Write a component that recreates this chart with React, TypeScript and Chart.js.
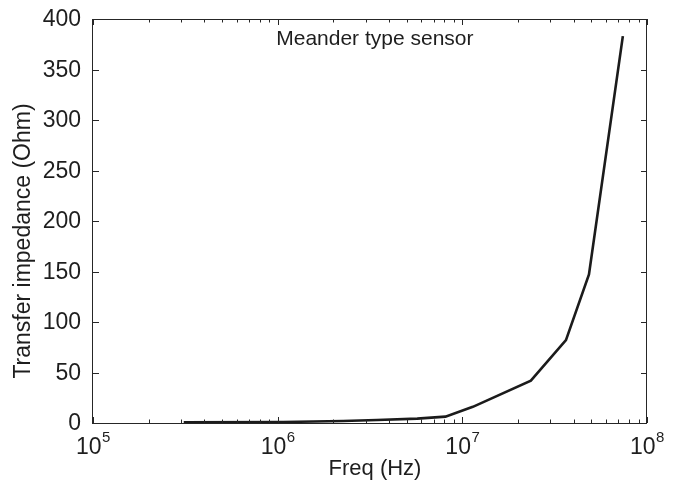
import React, { useEffect, useRef } from "react";
import { Chart, registerables } from "chart.js";

Chart.register(...registerables);

// ---- data ----
const freqHz = [3.1e5, 1.07e6, 2.26e6, 3.45e6, 5.7e6, 8.1e6, 1.14e7, 2.35e7, 3.64e7, 4.85e7, 7.4e7];
const impedanceOhm = [0.6, 1.0, 2.0, 3.0, 4.3, 6.3, 16, 42, 82, 147, 383];

const yTickValues = [0, 50, 100, 150, 200, 250, 300, 350, 400];
const xDecadeExponents = [5, 6, 7, 8];
const minorMultipliers = [2, 3, 4, 5, 6, 7, 8, 9];

const xAxisTitle = "Freq (Hz)";
const yAxisTitle = "Transfer impedance (Ohm)";
const annotationText = "Meander type sensor";
const annotationX = 3.36e6;
const annotationY = 380;

const FONT = "'Liberation Sans', Arial, Helvetica, sans-serif";
const TEXT_COLOR = "#1e1e1e";

const matlabAxesPlugin = {
  id: "matlabAxes",
  afterDraw(chart: any) {
    const { ctx, chartArea } = chart;
    const xs = chart.scales.x;
    const ys = chart.scales.y;
    const { left, right, top, bottom } = chartArea;
    ctx.save();

    // box
    ctx.strokeStyle = "#262626";
    ctx.lineWidth = 1;
    ctx.strokeRect(Math.round(left) - 0.5, Math.round(top) + 0.5, Math.round(right - left), Math.round(bottom - top));

    // y ticks (left and right) + labels
    ctx.font = `23px ${FONT}`;
    ctx.fillStyle = TEXT_COLOR;
    ctx.textAlign = "right";
    ctx.textBaseline = "middle";
    for (const v of yTickValues) {
      const py = Math.round(ys.getPixelForValue(v)) + 0.5;
      ctx.beginPath();
      ctx.moveTo(left, py);
      ctx.lineTo(left + 6, py);
      ctx.moveTo(right, py);
      ctx.lineTo(right - 6, py);
      ctx.stroke();
      ctx.fillText(String(v), left - 12, ys.getPixelForValue(v) + 1);
    }

    // x ticks (bottom and top)
    const drawXTick = (val: number, len: number) => {
      const px = Math.round(xs.getPixelForValue(val)) + 0.5;
      ctx.beginPath();
      ctx.moveTo(px, bottom);
      ctx.lineTo(px, bottom - len);
      ctx.moveTo(px, top);
      ctx.lineTo(px, top + len);
      ctx.stroke();
    };
    for (const e of xDecadeExponents) {
      const base = Math.pow(10, e);
      drawXTick(base, 6);
      if (e < xDecadeExponents[xDecadeExponents.length - 1]) {
        for (const m of minorMultipliers) drawXTick(m * base, 3.5);
      }
    }

    // x labels with superscripts
    ctx.textBaseline = "alphabetic";
    ctx.textAlign = "left";
    for (const e of xDecadeExponents) {
      const px = xs.getPixelForValue(Math.pow(10, e));
      ctx.font = `23px ${FONT}`;
      const w10 = ctx.measureText("10").width;
      ctx.font = `15px ${FONT}`;
      const wExp = ctx.measureText(String(e)).width;
      const start = px - (w10 + wExp) / 2;
      ctx.font = `23px ${FONT}`;
      ctx.fillText("10", start, bottom + 31);
      ctx.font = `15px ${FONT}`;
      ctx.fillText(String(e), start + w10 + 0.5, bottom + 19);
    }

    // axis titles
    ctx.font = `22px ${FONT}`;
    ctx.textAlign = "center";
    ctx.fillText(xAxisTitle, (left + right) / 2 + 5, bottom + 52);

    ctx.save();
    ctx.font = `23px ${FONT}`;
    ctx.translate(30, 241);
    ctx.rotate(-Math.PI / 2);
    ctx.textBaseline = "alphabetic";
    ctx.fillText(yAxisTitle, 0, 0);
    ctx.restore();

    // annotation
    ctx.font = `21px ${FONT}`;
    ctx.textAlign = "center";
    ctx.textBaseline = "middle";
    ctx.fillText(annotationText, xs.getPixelForValue(annotationX), ys.getPixelForValue(annotationY));

    ctx.restore();
  },
};

export default function App() {
  const canvasRef = useRef<HTMLCanvasElement | null>(null);

  useEffect(() => {
    if (!canvasRef.current) return;
    const chart = new Chart(canvasRef.current, {
      type: "line",
      data: {
        datasets: [
          {
            data: freqHz.map((f, i) => ({ x: f, y: impedanceOhm[i] })),
            borderColor: "#1b1b1b",
            borderWidth: 2.6,
            pointRadius: 0,
            tension: 0,
            fill: false,
          },
        ],
      },
      options: {
        responsive: false,
        animation: false,
        events: [],
        layout: { padding: { left: 93, right: 32, top: 19, bottom: 71 } },
        plugins: {
          legend: { display: false },
          tooltip: { enabled: false },
          title: { display: false },
        },
        scales: {
          x: {
            type: "logarithmic",
            display: false,
            min: 1e5,
            max: 1e8,
          },
          y: {
            type: "linear",
            display: false,
            min: 0,
            max: 400,
          },
        },
      },
      plugins: [matlabAxesPlugin],
    });
    return () => chart.destroy();
  }, []);

  return (
    <div style={{ position: "fixed", left: 0, top: 0, width: 679, height: 494, background: "#fff" }}>
      <canvas ref={canvasRef} width={679} height={494} style={{ width: 679, height: 494, display: "block" }} />
    </div>
  );
}
